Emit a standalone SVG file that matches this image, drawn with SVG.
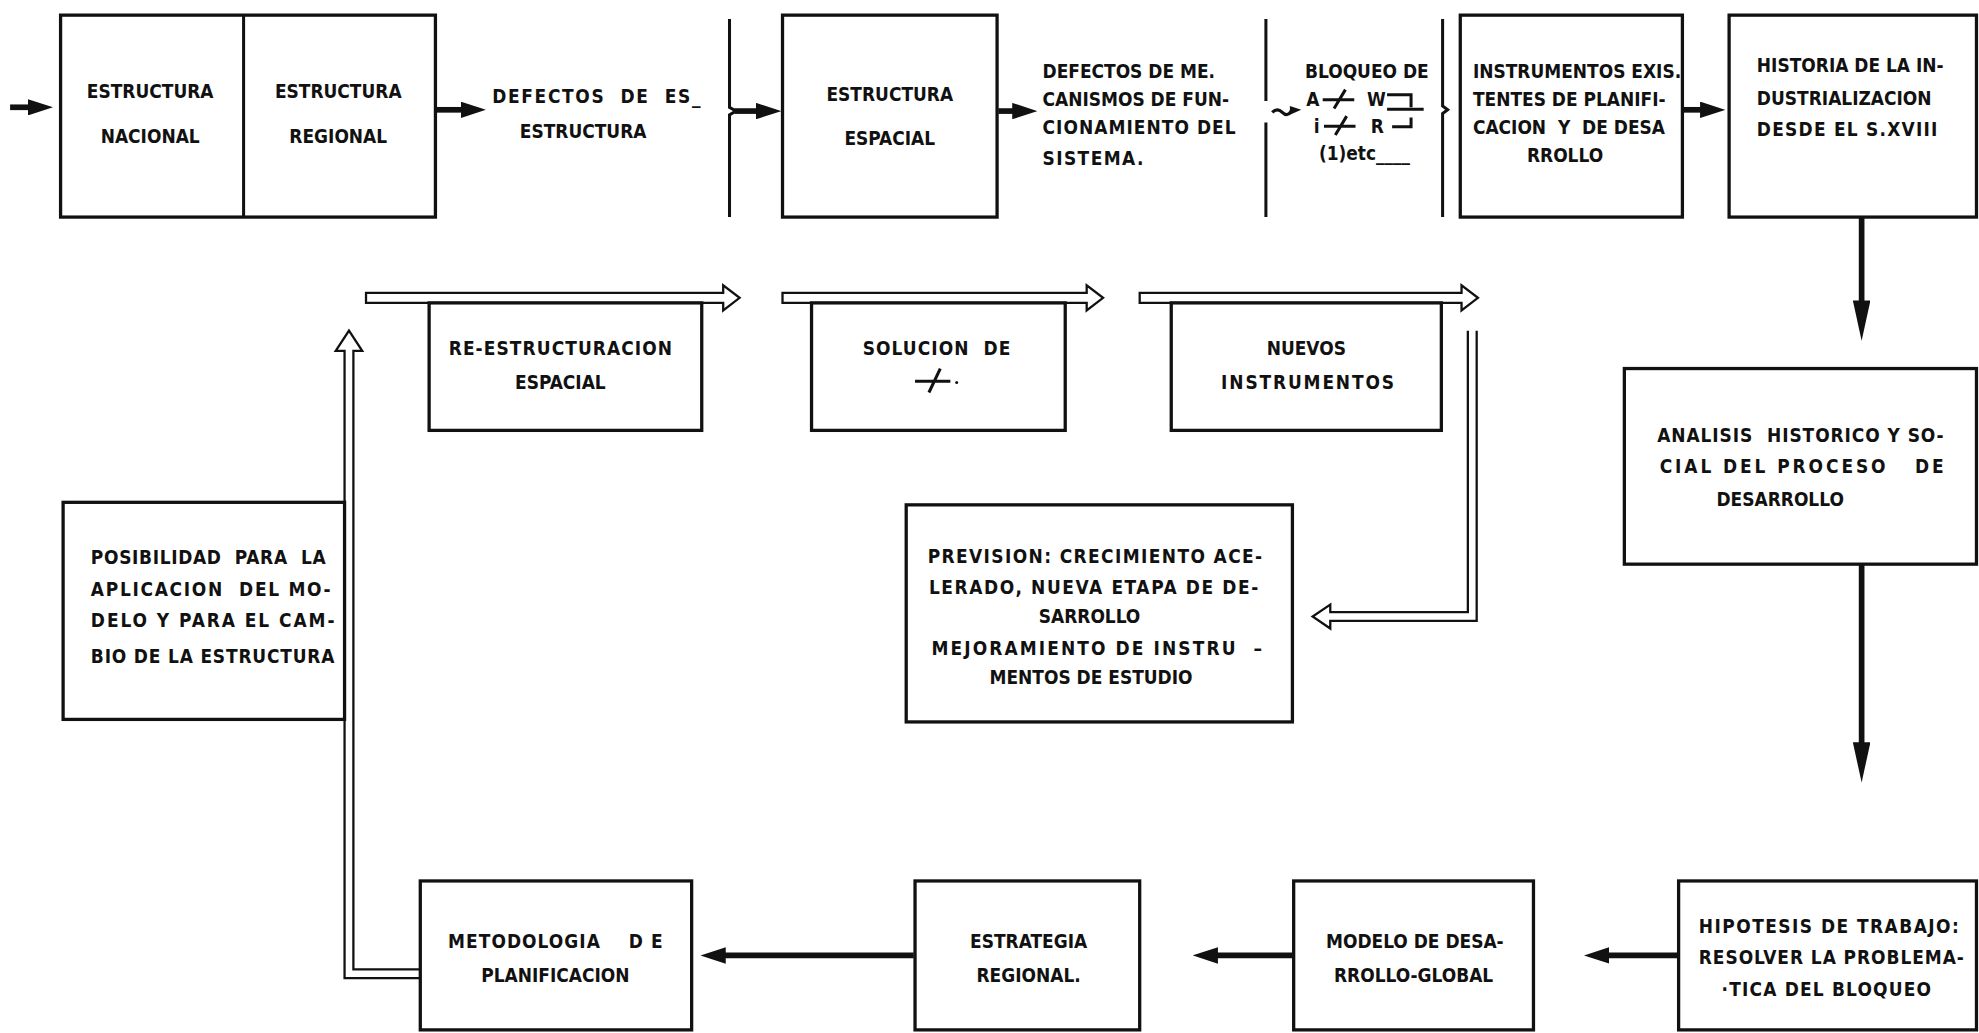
<svg xmlns="http://www.w3.org/2000/svg" width="1979" height="1033" viewBox="0 0 1979 1033">
<style>
.t{font-family:"DejaVu Sans Condensed","DejaVu Sans",sans-serif;font-weight:bold;font-size:15px;fill:#111;white-space:pre}
.c{text-anchor:middle}
.box{fill:none;stroke:#111;stroke-width:2.6}
.ln{fill:none;stroke:#111;stroke-width:2.4}
.ar{fill:none;stroke:#111;stroke-width:4.5}
.dbl{fill:#fff;stroke:#111;stroke-width:1.8;stroke-linejoin:miter}
</style>
<defs>
<marker id="ah" markerUnits="userSpaceOnUse" markerWidth="20" markerHeight="13" viewBox="0 0 20 13" refX="2" refY="6.5" orient="auto">
<path d="M0,0 L20,6.5 L0,13 z" fill="#111"/>
</marker>
<marker id="ahL" markerUnits="userSpaceOnUse" markerWidth="32" markerHeight="14" viewBox="0 0 32 14" refX="2" refY="7" orient="auto">
<path d="M0,0 L32,7 L0,14 z" fill="#111"/>
</marker>
</defs>
<rect width="1979" height="1033" fill="#fff"/>
<g transform="scale(1.26212)">
<g id="connectors">
<line class="ar" x1="8" y1="85" x2="24" y2="85" marker-end="url(#ah)"/>
<line class="ar" x1="346" y1="87" x2="367" y2="87" marker-end="url(#ah)"/>
<line class="ar" x1="582" y1="88" x2="601" y2="88" marker-end="url(#ah)"/>
<line class="ar" x1="791" y1="88" x2="804" y2="88" marker-end="url(#ah)"/>
<line class="ar" x1="1334" y1="87" x2="1349" y2="87" marker-end="url(#ah)"/>
<line class="ar" x1="1475" y1="172" x2="1475" y2="240" marker-end="url(#ahL)"/>
<line class="ar" x1="1475" y1="447" x2="1475" y2="590" marker-end="url(#ahL)"/>
<line class="ar" x1="724" y1="757" x2="573" y2="757" marker-end="url(#ah)"/>
<line class="ar" x1="1024" y1="757" x2="963" y2="757" marker-end="url(#ah)"/>
<line class="ar" x1="1329" y1="757" x2="1273" y2="757" marker-end="url(#ah)"/>
<path class="ln" d="M578 15 V85 l5 3 l-5 3 V172"/>
<path class="ln" d="M1003 15 V80 M1003 97 V172"/>
<path class="ln" d="M1143 15 V84 l4 3 l-4 3 V172"/>
<path fill="none" stroke="#111" stroke-width="2.5" d="M1008 89 q4 -4 8 0 t7 -1"/>
<path fill="#111" d="M1022 84 L1031 87 L1022 91 z"/>
<path class="dbl" d="M290 232 H573 V226 L586 236 L573 246 V240 H290 Z"/>
<path class="dbl" d="M620 232 H861 V226 L874 236 L861 246 V240 H620 Z"/>
<path class="dbl" d="M903 232 H1158 V226 L1171 236 L1158 246 V240 H903 Z"/>
<path class="dbl" d="M333 775 H273 V278 H266 L276.5 262 L287 278 H280 V768 H333"/>
<path class="dbl" d="M1163 262 V485 H1054 V479 L1040 488.5 L1054 498 V492 H1170 V262"/>
</g>
<g id="n-estructura-nac-reg">
<rect class="box" x="48" y="12" width="297" height="160"/>
<line class="ln" x1="193" y1="12" x2="193" y2="172"/>
<text class="t c" x="119" y="78">ESTRUCTURA</text>
<text class="t c" x="119" y="113">NACIONAL</text>
<text class="t c" x="268" y="78">ESTRUCTURA</text>
<text class="t c" x="268" y="113">REGIONAL</text>
</g>
<g id="n-defectos-estructura">
<text class="t" x="390" y="82" textLength="165" lengthAdjust="spacing">DEFECTOS  DE  ES_</text>
<text class="t c" x="462" y="109">ESTRUCTURA</text>
</g>
<g id="n-estructura-espacial">
<rect class="box" x="620" y="12" width="170" height="160"/>
<text class="t c" x="705" y="80">ESTRUCTURA</text>
<text class="t c" x="705" y="115">ESPACIAL</text>
</g>
<g id="n-defectos-mecanismos">
<text class="t" x="826" y="62">DEFECTOS DE ME.</text>
<text class="t" x="826" y="84">CANISMOS DE FUN-</text>
<text class="t" x="826" y="106" textLength="153" lengthAdjust="spacing">CIONAMIENTO DEL</text>
<text class="t" x="826" y="131" textLength="80" lengthAdjust="spacing">SISTEMA.</text>
</g>
<g id="n-bloqueo">
<text class="t" x="1034" y="62">BLOQUEO DE</text>
<text class="t" x="1035" y="84">A</text>
<path class="ln" d="M1048 79 H1073 M1057 86 L1066 71"/>
<text class="t" x="1083" y="84">W</text>
<text class="t" x="1041" y="105">i</text>
<path class="ln" d="M1049 100 H1074 M1058 107 L1067 92"/>
<text class="t" x="1086" y="105">R</text>
<path class="ln" d="M1099 75 H1118 V85 M1099 86.5 H1128 M1103 100.5 H1118 V93"/>
<text class="t" x="1045" y="127">(1)etc____</text>
</g>
<g id="n-instrumentos-existentes">
<rect class="box" x="1157" y="12" width="176" height="160"/>
<text class="t" x="1167" y="62">INSTRUMENTOS EXIS.</text>
<text class="t" x="1167" y="84">TENTES DE PLANIFI-</text>
<text class="t" x="1167" y="106">CACION  Y  DE DESA</text>
<text class="t c" x="1240" y="128">RROLLO</text>
</g>
<g id="n-historia">
<rect class="box" x="1370" y="12" width="196" height="160"/>
<text class="t" x="1392" y="57">HISTORIA DE LA IN-</text>
<text class="t" x="1392" y="83">DUSTRIALIZACION</text>
<text class="t" x="1392" y="108" textLength="143" lengthAdjust="spacing">DESDE EL S.XVIII</text>
</g>
<g id="n-reestructuracion">
<rect class="box" x="340" y="240" width="216" height="101"/>
<text class="t c" x="444" y="281" textLength="177" lengthAdjust="spacing">RE-ESTRUCTURACION</text>
<text class="t c" x="444" y="308">ESPACIAL</text>
</g>
<g id="n-solucion">
<rect class="box" x="643" y="240" width="201" height="101"/>
<text class="t c" x="742" y="281" textLength="117" lengthAdjust="spacing">SOLUCION  DE</text>
<path class="ln" d="M725 302 H753 M736 311 L745 292"/>
<circle cx="758" cy="303" r="1.2" fill="#111"/>
</g>
<g id="n-nuevos">
<rect class="box" x="928" y="240" width="214" height="101"/>
<text class="t c" x="1035" y="281">NUEVOS</text>
<text class="t c" x="1036" y="308" textLength="137" lengthAdjust="spacing">INSTRUMENTOS</text>
</g>
<g id="n-prevision">
<rect class="box" x="718" y="400" width="306" height="172"/>
<text class="t" x="735" y="446" textLength="265" lengthAdjust="spacing">PREVISION: CRECIMIENTO ACE-</text>
<text class="t" x="736" y="471" textLength="261" lengthAdjust="spacing">LERADO, NUEVA ETAPA DE DE-</text>
<text class="t" x="823" y="494">SARROLLO</text>
<text class="t" x="738" y="519" textLength="262" lengthAdjust="spacing">MEJORAMIENTO DE INSTRU  –</text>
<text class="t" x="784" y="542">MENTOS DE ESTUDIO</text>
</g>
<g id="n-analisis">
<rect class="box" x="1287" y="292" width="279" height="155"/>
<text class="t" x="1313" y="350" textLength="227" lengthAdjust="spacing">ANALISIS  HISTORICO Y SO-</text>
<text class="t" x="1315" y="375" textLength="225" lengthAdjust="spacing">CIAL DEL PROCESO   DE</text>
<text class="t" x="1360" y="401">DESARROLLO</text>
</g>
<g id="n-posibilidad">
<rect class="box" x="50" y="398" width="223" height="172"/>
<text class="t" x="72" y="447" textLength="186" lengthAdjust="spacing">POSIBILIDAD  PARA  LA</text>
<text class="t" x="72" y="472" textLength="190" lengthAdjust="spacing">APLICACION  DEL MO-</text>
<text class="t" x="72" y="497" textLength="193" lengthAdjust="spacing">DELO Y PARA EL CAM-</text>
<text class="t" x="72" y="525" textLength="193" lengthAdjust="spacing">BIO DE LA ESTRUCTURA</text>
</g>
<g id="n-metodologia">
<rect class="box" x="333" y="698" width="215" height="118"/>
<text class="t c" x="440" y="751" textLength="170" lengthAdjust="spacing">METODOLOGIA    D E</text>
<text class="t c" x="440" y="778">PLANIFICACION</text>
</g>
<g id="n-estrategia">
<rect class="box" x="725" y="698" width="178" height="118"/>
<text class="t c" x="815" y="751">ESTRATEGIA</text>
<text class="t c" x="815" y="778">REGIONAL.</text>
</g>
<g id="n-modelo">
<rect class="box" x="1025" y="698" width="190" height="118"/>
<text class="t c" x="1121" y="751">MODELO DE DESA-</text>
<text class="t c" x="1120" y="778">RROLLO-GLOBAL</text>
</g>
<g id="n-hipotesis">
<rect class="box" x="1330" y="698" width="236" height="118"/>
<text class="t" x="1346" y="739" textLength="206" lengthAdjust="spacing">HIPOTESIS DE TRABAJO:</text>
<text class="t" x="1346" y="764" textLength="210" lengthAdjust="spacing">RESOLVER LA PROBLEMA-</text>
<text class="t" x="1364" y="789" textLength="166" lengthAdjust="spacing">·TICA DEL BLOQUEO</text>
</g>
</g>
</svg>
